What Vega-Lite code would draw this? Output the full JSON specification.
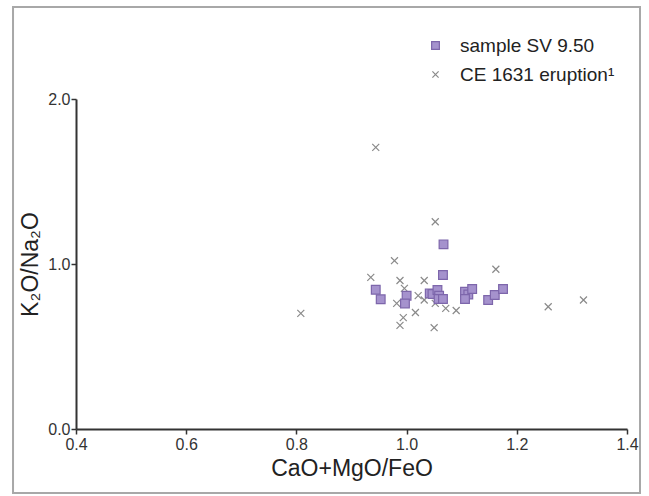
{
  "$schema": "https://vega.github.io/schema/vega-lite/v6.json",
  "width": 551,
  "height": 330,
  "autosize": {"type": "none"},
  "padding": {"left": 76, "top": 99, "right": 22, "bottom": 67},
  "background": "white",
  "config": {
    "view": {"stroke": null},
    "font": "Liberation Sans"
  },
  "datasets": {
    "pts": [
      {"series": "CE 1631 eruption¹", "x": 0.808, "y": 0.701},
      {"series": "CE 1631 eruption¹", "x": 0.944, "y": 1.707},
      {"series": "CE 1631 eruption¹", "x": 1.052, "y": 1.256},
      {"series": "CE 1631 eruption¹", "x": 0.978, "y": 1.020},
      {"series": "CE 1631 eruption¹", "x": 0.935, "y": 0.919},
      {"series": "CE 1631 eruption¹", "x": 0.988, "y": 0.900},
      {"series": "CE 1631 eruption¹", "x": 0.996, "y": 0.852},
      {"series": "CE 1631 eruption¹", "x": 1.032, "y": 0.900},
      {"series": "CE 1631 eruption¹", "x": 1.021, "y": 0.808},
      {"series": "CE 1631 eruption¹", "x": 1.032, "y": 0.782},
      {"series": "CE 1631 eruption¹", "x": 0.982, "y": 0.761},
      {"series": "CE 1631 eruption¹", "x": 1.052, "y": 0.761},
      {"series": "CE 1631 eruption¹", "x": 1.071, "y": 0.731},
      {"series": "CE 1631 eruption¹", "x": 1.090, "y": 0.718},
      {"series": "CE 1631 eruption¹", "x": 1.016, "y": 0.706},
      {"series": "CE 1631 eruption¹", "x": 0.994, "y": 0.675},
      {"series": "CE 1631 eruption¹", "x": 0.988, "y": 0.628},
      {"series": "CE 1631 eruption¹", "x": 1.050, "y": 0.614},
      {"series": "CE 1631 eruption¹", "x": 1.162, "y": 0.968},
      {"series": "CE 1631 eruption¹", "x": 1.257, "y": 0.741},
      {"series": "CE 1631 eruption¹", "x": 1.321, "y": 0.782},
      {"series": "sample SV 9.50", "x": 0.944, "y": 0.844},
      {"series": "sample SV 9.50", "x": 0.953, "y": 0.786},
      {"series": "sample SV 9.50", "x": 1.000, "y": 0.808},
      {"series": "sample SV 9.50", "x": 0.997, "y": 0.761},
      {"series": "sample SV 9.50", "x": 1.042, "y": 0.822},
      {"series": "sample SV 9.50", "x": 1.047, "y": 0.818},
      {"series": "sample SV 9.50", "x": 1.056, "y": 0.842},
      {"series": "sample SV 9.50", "x": 1.059, "y": 0.808},
      {"series": "sample SV 9.50", "x": 1.058, "y": 0.788},
      {"series": "sample SV 9.50", "x": 1.066, "y": 0.788},
      {"series": "sample SV 9.50", "x": 1.066, "y": 0.933},
      {"series": "sample SV 9.50", "x": 1.067, "y": 1.119},
      {"series": "sample SV 9.50", "x": 1.106, "y": 0.832},
      {"series": "sample SV 9.50", "x": 1.112, "y": 0.815},
      {"series": "sample SV 9.50", "x": 1.119, "y": 0.848},
      {"series": "sample SV 9.50", "x": 1.106, "y": 0.788},
      {"series": "sample SV 9.50", "x": 1.148, "y": 0.782},
      {"series": "sample SV 9.50", "x": 1.160, "y": 0.812},
      {"series": "sample SV 9.50", "x": 1.175, "y": 0.848}
    ]
  },
  "layer": [
    {
      "data": {"values": [{"frame": 1}]},
      "mark": {"type": "rect", "fill": null, "stroke": "#a8a8a8", "strokeWidth": 2},
      "encoding": {
        "x": {"datum": 0.2857, "type": "quantitative"},
        "x2": {"datum": 1.4236},
        "y": {"datum": 2.558, "type": "quantitative"},
        "y2": {"datum": -0.388}
      }
    },
    {
      "data": {"name": "pts"},
      "mark": {"type": "point", "size": 76, "strokeWidth": 1.2, "opacity": 1, "filled": false},
      "encoding": {
        "x": {
          "field": "x", "type": "quantitative",
          "scale": {"domain": [0.4, 1.4], "nice": false, "zero": false},
          "axis": {
            "title": "CaO+MgO/FeO", "values": [0.4, 0.6, 0.8, 1.0, 1.2, 1.4], "format": ".1f",
            "grid": false, "domainColor": "#333", "domainWidth": 2, "tickColor": "#333", "tickWidth": 1.5, "tickSize": 5,
            "labelFontSize": 16, "labelColor": "#333", "labelPadding": 2, "labelFlush": false,
            "titleFontSize": 23, "titleFontWeight": "normal", "titleColor": "#222", "titlePadding": 5
          }
        },
        "y": {
          "field": "y", "type": "quantitative",
          "scale": {"domain": [0, 2], "nice": false, "zero": true},
          "axis": {
            "title": "K₂O/Na₂O", "values": [0, 1, 2], "format": ".1f",
            "grid": false, "domainColor": "#333", "domainWidth": 2, "tickColor": "#333", "tickWidth": 1.5, "tickSize": 5,
            "labelFontSize": 16, "labelColor": "#333", "labelPadding": 1,
            "titleFontSize": 23, "titleFontWeight": "normal", "titleColor": "#222", "titlePadding": 5
          }
        },
        "shape": {
          "field": "series", "type": "nominal",
          "scale": {"domain": ["sample SV 9.50", "CE 1631 eruption¹"], "range": ["square", "M-0.8,-0.8L0.8,0.8M-0.8,0.8L0.8,-0.8"]},
          "legend": {
            "title": null, "orient": "none", "legendX": 350, "legendY": -63,
            "labelFontSize": 19, "labelColor": "#222", "symbolSize": 60, "rowPadding": 9,
            "labelOffset": 15, "padding": 0, "symbolStrokeWidth": 1.2
          }
        },
        "fill": {
          "field": "series", "type": "nominal",
          "scale": {"domain": ["sample SV 9.50", "CE 1631 eruption¹"], "range": ["#a592cd", "transparent"]}
        },
        "stroke": {
          "field": "series", "type": "nominal",
          "scale": {"domain": ["sample SV 9.50", "CE 1631 eruption¹"], "range": ["#7d66ab", "#8a8a8a"]}
        }
      }
    }
  ]
}
